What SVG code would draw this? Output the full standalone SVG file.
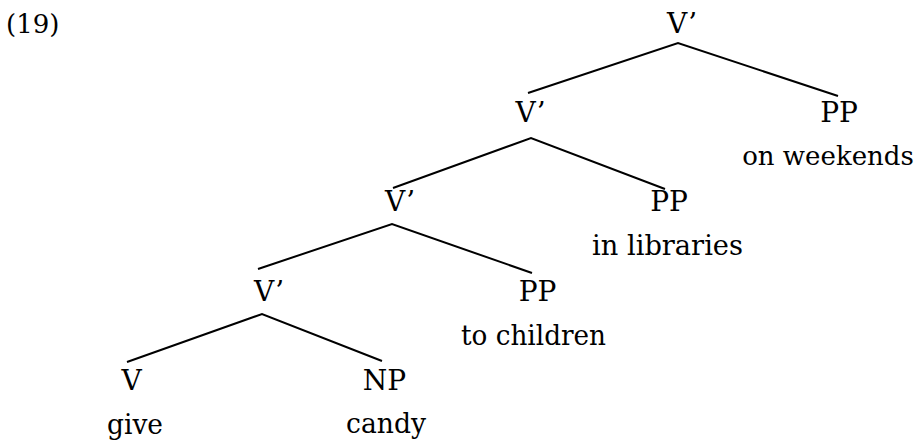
<svg xmlns="http://www.w3.org/2000/svg" width="918" height="441" viewBox="0 0 918 441">
  <style>
    text { font-family: "DejaVu Serif", "Liberation Serif", serif; font-size: 28px; fill: #000; text-anchor: middle; }
    .num { font-size: 26px; text-anchor: start; }
    .wide { font-size: 26px; }
    .edge { stroke: #000; stroke-width: 2; fill: none; stroke-linecap: butt; }
  </style>
  <rect width="918" height="441" fill="#fff"/>

  <text id="example-number" class="num" x="6" y="33">(19)</text>

  <!-- tree branches -->
  <g id="connectors">
    <polyline class="edge" points="528,93 678,43 838,96"/>
    <polyline class="edge" points="393,188 531,138 665,189"/>
    <polyline class="edge" points="258,269 392,224 532,273"/>
    <polyline class="edge" points="127,362 262,314 382,361"/>
  </g>

  <!-- level 1 -->
  <g id="vbar-1"><text x="682" y="33">V’</text></g>

  <!-- level 2 -->
  <g id="vbar-2"><text x="530.5" y="122">V’</text></g>
  <g id="pp-weekends">
    <text x="839" y="122">PP</text>
    <text class="wide" x="828" y="165">on weekends</text>
  </g>

  <!-- level 3 -->
  <g id="vbar-3"><text x="400" y="211">V’</text></g>
  <g id="pp-libraries">
    <text x="669" y="211">PP</text>
    <text x="667.5" y="255" textLength="151" lengthAdjust="spacingAndGlyphs">in libraries</text>
  </g>

  <!-- level 4 -->
  <g id="vbar-4"><text x="269" y="301">V’</text></g>
  <g id="pp-children">
    <text x="537.5" y="301">PP</text>
    <text x="533.5" y="345" textLength="145" lengthAdjust="spacingAndGlyphs">to children</text>
  </g>

  <!-- level 5 -->
  <g id="v-give">
    <text x="131.5" y="390">V</text>
    <text x="135" y="434" textLength="56" lengthAdjust="spacingAndGlyphs">give</text>
  </g>
  <g id="np-candy">
    <text x="384.5" y="390">NP</text>
    <text x="386" y="433" textLength="80" lengthAdjust="spacingAndGlyphs">candy</text>
  </g>
</svg>
